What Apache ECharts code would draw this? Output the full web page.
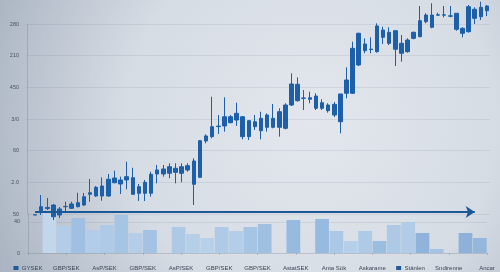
<!DOCTYPE html>
<html>
<head>
<meta charset="utf-8">
<script src="https://cdn.jsdelivr.net/npm/echarts@6/dist/echarts.min.js"></script>
<style>
html,body{margin:0;padding:0;width:500px;height:272px;overflow:hidden;}
#c{width:500px;height:272px;}
</style>
</head>
<body>
<div id="c"></div>
<script>
// ---- data ----
const candleTickLabels = ['50', '2.0', '60', '3/0', '450', '210', '280'];
const barTickLabels = ['0', '', '', '', '40', ''];
const bottomLabels = ['GYSEK','GBP/SEK','AsP/SEK','GBP/SEK','AsP/SEK','GBP/SEK','GBP/SEK','AstatSEK','Anta Sök','Askarame','Stänlen','Sndirenne','Ancar'];

const opens  = [-1.6,5.2,8.7,14.2,-1.6,11.5,9.0,11.5,14.2,31.1,28.4,28.4,28.4,49.4,53.7,53.7,57.3,32.7,32.7,32.7,63.2,63.2,64.3,65.8,64.3,69.5,83.7,57.9,115.3,122.1,138.0,139.0,144.2,148.4,153.6,147.3,137.8,131.5,136.9,151.1,136.9,135.3,172.1,204.8,182.7,181.1,186.3,175.7,172.1,173.2,189.5,190.6,190.6,235.3,257.9,259.7,256.3,279.0,286.9,289.4,269.5,256.3,277.4,280.0,303.6,314.2,314.0,314.0,312.3,316.9,285.3,287.9,309.0,311.5,321.0];
const closes = [-1.2,11.5,10.3,-4.3,7.9,12.0,15.8,17.8,27.3,33.6,42.2,44.2,54.8,56.8,47.4,58.9,31.1,43.1,50.1,62.7,69.5,71.1,74.7,72.2,74.7,76.3,46.9,115.7,123.2,137.8,138.8,153.6,153.6,159.0,122.1,122.1,145.7,151.1,156.3,136.9,161.5,172.1,205.3,178.9,183.2,183.6,166.9,166.9,163.1,156.3,145.7,211.6,261.6,285.3,268.4,260.5,296.9,290.5,269.5,260.1,253.7,274.7,286.9,305.2,314.2,294.8,314.5,314.5,312.9,291.6,293.2,327.3,323.2,326.4,328.4];
const lows   = [-1.6,-1.6,6.3,-9.5,-6.3,1.6,7.9,10.6,12.6,19.4,27.3,21.0,27.3,48.5,31.6,39.0,30.0,20.5,20.5,27.3,48.5,58.9,56.4,48.5,50.1,66.8,14.2,57.3,111.6,119.5,126.3,130.0,143.2,139.0,117.9,116.8,132.6,117.9,130.0,135.3,122.1,133.7,170.5,177.3,164.2,174.8,164.2,164.2,160.0,153.2,127.4,182.7,189.5,233.7,253.7,253.7,254.7,268.4,266.8,233.7,240.5,254.7,275.8,279.0,301.1,293.2,312.6,310.6,310.6,289.4,279.0,286.3,300.0,306.3,312.6];
const highs  = [-1.2,30.0,25.3,15.8,11.1,19.4,19.4,33.6,33.2,55.3,44.2,57.9,63.2,68.4,58.9,82.6,73.1,47.4,53.7,66.8,77.4,77.4,80.1,80.1,80.1,80.1,87.9,116.8,125.8,185.2,156.3,184.3,156.3,175.7,154.7,148.4,156.3,161.5,159.0,173.7,166.9,174.8,222.2,215.8,195.8,193.1,190.6,181.1,174.8,176.8,189.5,231.6,272.1,286.3,277.4,279.0,301.1,295.8,294.8,290.5,282.6,277.4,287.9,328.4,316.9,332.7,317.9,328.4,328.4,316.9,294.8,330.0,326.4,335.2,330.0];
const candleDays = opens.map((_, i) => 'D' + (i + 1));

const volumes = [null,51,34.6,44.9,29.5,35.9,48.7,25.6,29.5,null,33.3,24.4,19.2,33.3,28.2,33.3,37.2,null,42.3,null,43.6,28.2,15.4,28.2,15.4,35.9,39.7,25.6,5.1,null,25.6,19.2];
const volumeSlots = volumes.map((_, i) => 'S' + (i + 1));
const referenceLevel = 3;

// ---- styles ----
const barShades = ['#b3cce7','#c3d7ec','#b3cce7','#9fc0e2','#b3cce7','#afcae6','#a6c4e4','#b5cee8','#a4c2e3','#b3cce7','#adc9e6','#b6cfe9','#b8d0ea','#afcae7','#b4cde8','#a6c4e4','#a0c0e2','#b3cce7','#96bae0','#b3cce7','#97bbe0','#abc8e6','#b5cfea','#aecae7','#9bbde0','#adc9e6','#b2cce8','#8fb3da','#a5c3e3','#b3cce7','#8db1d9','#95b7dc'];
const markerLabels = [0, 10];
const candleBlue = '#1d5fa8';
const gridColor = 'rgba(105,120,140,0.14)';
const axisColor = 'rgba(110,122,140,0.3)';
const labelColor = '#4a5363';

const chart = echarts.init(document.getElementById('c'), null, {renderer: 'canvas'});
chart.setOption({
  animation: false,
  backgroundColor: {
    type: 'radial', x: 0.62, y: 0.45, r: 1.25,
    colorStops: [
      {offset: 0, color: '#e3e7ed'},
      {offset: 0.55, color: '#d6dce4'},
      {offset: 1, color: '#aab4c2'}
    ]
  },
  textStyle: {fontFamily: 'Liberation Sans, Arial, sans-serif'},
  grid: [
    {left: 27, right: 10, top: 24, height: 190},
    {left: 32, right: 10, top: 24, height: 190},
    {left: 28, right: 13, top: 214, bottom: 19}
  ],
  xAxis: [
    {gridIndex: 0, type: 'value', min: 0, max: 1, show: false},
    {gridIndex: 1, type: 'category', data: candleDays, show: false},
    {gridIndex: 2, type: 'category', data: volumeSlots,
      axisLine: {show: true, lineStyle: {color: axisColor}},
      axisTick: {show: false}, axisLabel: {show: false}},
    {gridIndex: 2, type: 'category', data: bottomLabels, boundaryGap: false, position: 'bottom',
      axisLine: {show: false},
      axisTick: {show: true, length: 2, lineStyle: {color: 'rgba(110,122,140,0.35)'}},
      axisLabel: {
        interval: 0, margin: 12, fontSize: 6, color: '#3c4555',
        formatter: (v, i) => markerLabels.includes(i) ? '{sq|}  ' + v : v,
        rich: {sq: {width: 5, height: 4, backgroundColor: '#1f5a9a'}}
      }}
  ],
  yAxis: [
    {gridIndex: 0, type: 'value', min: 0, max: 300, interval: 50,
      axisLine: {show: true, lineStyle: {color: axisColor}},
      axisTick: {show: false},
      axisLabel: {margin: 8, fontSize: 5.5, color: labelColor,
        formatter: v => candleTickLabels[Math.round(v / 50)] || ''},
      splitLine: {show: true, lineStyle: {color: gridColor, width: 1}}},
    {gridIndex: 1, type: 'value', min: 0, max: 300, show: false},
    {gridIndex: 2, type: 'value', min: 0, max: 50, interval: 10,
      axisLine: {show: true, lineStyle: {color: axisColor}},
      axisTick: {show: false},
      axisLabel: {margin: 8, fontSize: 5.5, color: labelColor,
        formatter: v => barTickLabels[Math.round(v / 10)] || ''},
      splitLine: {show: true, lineStyle: {
        color: ['rgba(0,0,0,0)','rgba(0,0,0,0)','rgba(0,0,0,0)','rgba(0,0,0,0)', gridColor, 'rgba(0,0,0,0)'], width: 1}}}
  ],
  series: [
    {
      type: 'bar', xAxisIndex: 2, yAxisIndex: 2, data: volumes,
      barCategoryGap: '4%', clip: false, silent: true,
      itemStyle: {color: p => barShades[p.dataIndex]}
    },
    {
      type: 'candlestick', xAxisIndex: 1, yAxisIndex: 1, clip: false, silent: true,
      barWidth: 4,
      data: opens.map((o, i) => [o, closes[i], lows[i], highs[i]]),
      itemStyle: {color: candleBlue, color0: candleBlue, borderColor: candleBlue, borderColor0: candleBlue, borderWidth: 1},
      markLine: {
        silent: true, symbol: ['none', 'arrow'], symbolSize: 9,
        label: {show: false},
        lineStyle: {color: '#1c5896', width: 2, type: 'solid'},
        emphasis: {disabled: true},
        data: [[{coord: [0, referenceLevel]}, {coord: [72, referenceLevel]}]]
      }
    }
  ]
});
</script>
</body>
</html>
